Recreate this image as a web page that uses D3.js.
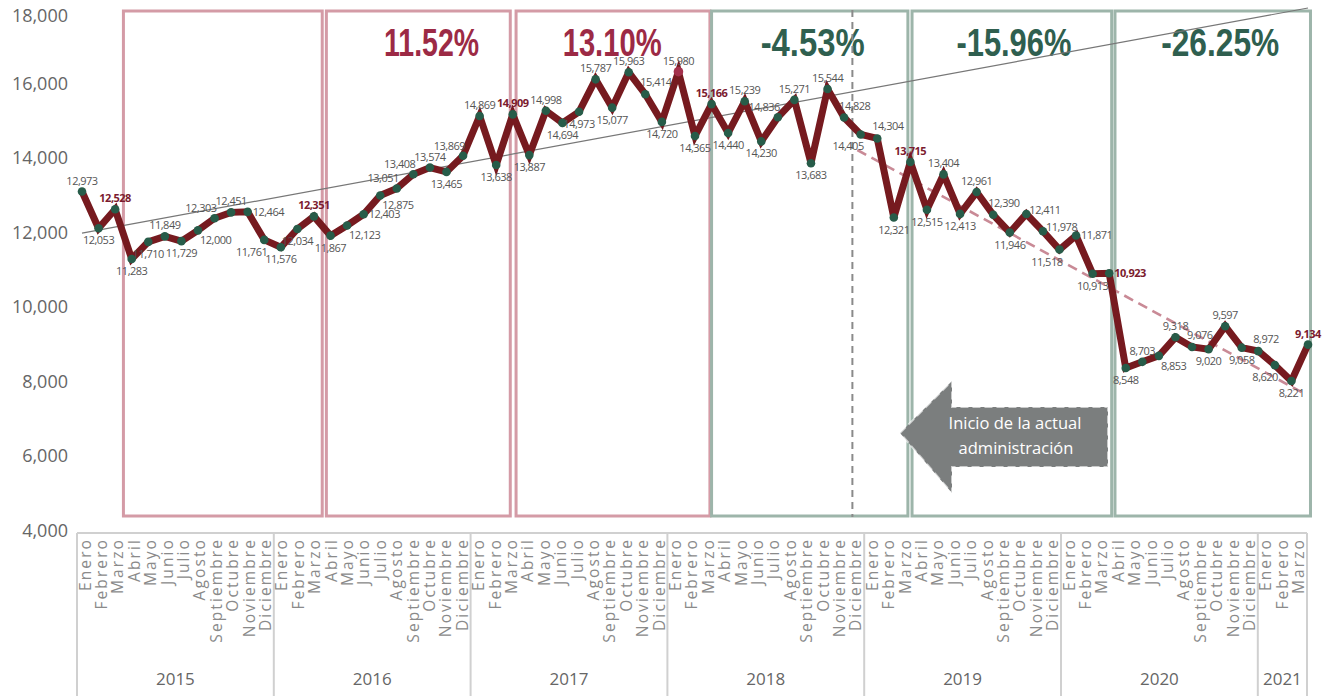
<!DOCTYPE html>
<html>
<head>
<meta charset="utf-8">
<script src="https://cdn.jsdelivr.net/npm/d3@7.9.0/dist/d3.min.js"></script>
<style>
  body { margin: 0; background: #fff; }
  svg { display: block; }
</style>
</head>
<body>
<svg id="chart" width="1331" height="696"></svg>
<script>
// month names and years on the category axis
const months = ['Enero','Febrero','Marzo','Abril','Mayo','Junio','Julio','Agosto','Septiembre','Octubre','Noviembre','Diciembre'];
const years = ['2015','2016','2017','2018','2019','2020','2021'];
const monthsPerYear = [12, 12, 12, 12, 12, 12, 3];

// monthly values, Enero 2015 .. Marzo 2021
const values = [
  12973, 12053, 12528, 11283, 11710, 11849, 11729, 12000, 12303, 12451, 12464, 11761,
  11576, 12034, 12351, 11867, 12123, 12403, 12875, 13051, 13408, 13574, 13465, 13869,
  14869, 13638, 14909, 13887, 14998, 14694, 14973, 15787, 15077, 15963, 15414, 14720,
  15980, 14365, 15166, 14440, 15239, 14230, 14836, 15271, 13683, 15544, 14828, 14405,
  14304, 12321, 13715, 12515, 13404, 12413, 12961, 12390, 11946, 12411, 11978, 11518,
  11871, 10913, 10923, 8548, 8703, 8853, 9318, 9076, 9020, 9597, 9058, 8972,
  8620, 8221, 9134
];

// March values shown in bold, and the peak point
const boldIdx = [2, 14, 26, 38, 50, 62, 74];
const peakIdx = 36;

// where each value label sits around its point
const labelPos = [
  't','b','t','b','b','t','b','br','tl','t','r','bl',
  'b','b','t','b','br','r','br','tl','tl','t','b','tl',
  't','b','t','b','t','b','b','t','b','t','tr','b',
  't','b','t','b','t','b','tl','t','b','t','tr','bl',
  'tr','b','t','b','t','b','t','tr','b','rt','rt','bl',
  'r','b','r','b','t','br','t','tr','b','t','b','tr',
  'bl','b','t'
];

// twelve-month boxes (in point index units) and their change labels
const boxFrom = [2.5, 14.75, 26.2, 38.0, 50.1, 62.35];
const boxTo = [14.5, 25.85, 37.9, 49.85, 62.15, 74.15];
const boxKind = ['up', 'up', 'up', 'down', 'down', 'down'];
const boxLabel = ['', '11.52%', '13.10%', '-4.53%', '-15.96%', '-26.25%'];
const boxLabelAt = [0, 21.1, 32.0, 44.1, 56.25, 68.7];
const boxLabelWidth = [0, 95, 99, 104, 115, 118];

// trend lines: [index, value]
const trendAll = [[0, 11930], [74, 17575]];
const trendNow = [[46.8, 14015], [73.8, 7900]];
const adminStart = 46.5;

const yTicks = [4000, 6000, 8000, 10000, 12000, 14000, 16000, 18000];

const svg = d3.select('#chart');
const W = 1331, H = 696;
const font = "'Open Sans', sans-serif";

const n = values.length;
const x = d3.scaleLinear().domain([0, n - 1]).range([82, 1308]);
const y = d3.scaleLinear().domain([4486, 17400]).range([530, 15]);   // series
const yAxisScale = d3.scaleLinear().domain([4000, 18000]).range([530.5, 9]);
const xBand = d3.scaleBand().domain(d3.range(n)).range([77, 1307]);

const colRed = '#761a1f';
const colDot = '#275c49';
const colPink = '#d49ba6';
const colGreen = '#9db5aa';

// y axis labels
const yAxis = svg.append('g')
  .attr('transform', 'translate(68,0)')
  .call(d3.axisLeft(yAxisScale).tickValues(yTicks).tickSize(0).tickPadding(0).tickFormat(d3.format(',')));
yAxis.select('.domain').remove();
yAxis.selectAll('text')
  .attr('font-family', font)
  .attr('font-size', 18)
  .attr('fill', '#666')
  .attr('dy', d => d === 18000 ? '0.7em' : '0.32em');

// boxes
boxFrom.forEach((f, i) => {
  svg.append('rect')
    .attr('x', x(f))
    .attr('y', 11)
    .attr('width', x(boxTo[i]) - x(f))
    .attr('height', 505)
    .attr('fill', 'none')
    .attr('stroke', boxKind[i] === 'up' ? colPink : colGreen)
    .attr('stroke-width', 3);
  if (boxLabel[i]) {
    svg.append('text')
      .attr('x', x(boxLabelAt[i]))
      .attr('y', 56)
      .attr('text-anchor', 'middle')
      .attr('font-family', "'Liberation Sans Narrow', 'Liberation Sans', sans-serif")
      .attr('font-weight', 'bold')
      .attr('font-size', 39)
      .attr('textLength', boxLabelWidth[i])
      .attr('lengthAdjust', 'spacingAndGlyphs')
      .attr('fill', boxKind[i] === 'up' ? '#9c2a45' : '#2f5f4f')
      .text(boxLabel[i]);
  }
});

// start of administration marker
svg.append('line')
  .attr('x1', x(adminStart)).attr('x2', x(adminStart))
  .attr('y1', 10).attr('y2', 517)
  .attr('stroke', '#8a8a8a')
  .attr('stroke-width', 2)
  .attr('stroke-dasharray', '7,5');

// trend lines
const tline = d3.line().x(d => x(d[0])).y(d => y(d[1]));
svg.append('path')
  .attr('d', tline(trendAll))
  .attr('stroke', '#777')
  .attr('stroke-width', 1.2)
  .attr('fill', 'none');
svg.append('path')
  .attr('d', tline(trendNow))
  .attr('stroke', '#c98a96')
  .attr('stroke-width', 2.6)
  .attr('stroke-dasharray', '10,6')
  .attr('fill', 'none');

// arrow
const ax = 900, ay = 437;
const arrowPts = [[ax, ay - 4], [ax + 52, ay - 56], [ax + 52, ay - 30], [1108, ay - 30], [1108, ay + 30], [ax + 52, ay + 30], [ax + 52, ay + 56]];
svg.append('path')
  .attr('d', d3.line()(arrowPts) + 'Z')
  .attr('fill', '#7b7e7e')
  .attr('stroke', '#fff')
  .attr('stroke-opacity', 0.6)
  .attr('stroke-width', 2)
  .attr('stroke-dasharray', '8,4');
svg.append('text')
  .attr('x', 1015).attr('y', 429)
  .attr('text-anchor', 'middle')
  .attr('font-family', font).attr('font-size', 16.5)
  .attr('fill', '#fff')
  .text('Inicio de la actual');
svg.append('text')
  .attr('x', 1016).attr('y', 454)
  .attr('text-anchor', 'middle')
  .attr('font-family', font).attr('font-size', 16.5)
  .attr('fill', '#fff')
  .text('administración');

// main series
svg.append('path')
  .datum(values)
  .attr('d', d3.line().x((d, i) => x(i)).y(d => y(d)))
  .attr('fill', 'none')
  .attr('stroke', colRed)
  .attr('stroke-width', 7)
  .attr('stroke-linejoin', 'miter');

svg.selectAll('circle.pt')
  .data(values)
  .join('circle')
  .attr('class', 'pt')
  .attr('cx', (d, i) => x(i))
  .attr('cy', d => y(d))
  .attr('r', (d, i) => i === peakIdx ? 4.8 : 4.3)
  .attr('fill', (d, i) => i === peakIdx ? '#a3304b' : colDot);

// value labels
const offsets = {
  t: ['middle', 0, -7], b: ['middle', 0, 16],
  tl: ['end', 2, -6], tr: ['start', -5, -8],
  bl: ['end', 3, 16], br: ['start', 2, 14],
  r: ['start', 5, 4], rt: ['start', 3, 0]
};
const fmt = d3.format(',');
svg.selectAll('text.val')
  .data(values)
  .join('text')
  .attr('class', 'val')
  .each(function (d, i) {
    const o = offsets[labelPos[i]];
    const bold = boldIdx.includes(i);
    d3.select(this)
      .attr('x', x(i) + o[1])
      .attr('y', y(d) + o[2])
      .attr('text-anchor', o[0])
      .attr('font-family', font)
      .attr('font-size', 11)
      .attr('letter-spacing', -0.5)
      .attr('font-weight', bold ? 'bold' : 'normal')
      .attr('fill', bold ? '#7b1b2e' : '#555')
      .text(fmt(d));
  });

// category axis
const axisG = svg.append('g');
const bw = xBand.bandwidth();
axisG.append('line')
  .attr('x1', xBand(0)).attr('x2', xBand(n - 1) + bw)
  .attr('y1', 533).attr('y2', 533)
  .attr('stroke', '#d0d0d0').attr('stroke-width', 2);

let start = 0;
const bounds = [0];
monthsPerYear.forEach(c => { start += c; bounds.push(start); });
bounds.forEach(b => {
  const bx = b < n ? xBand(b) : xBand(n - 1) + bw;
  axisG.append('line')
    .attr('x1', bx).attr('x2', bx)
    .attr('y1', 533).attr('y2', H)
    .attr('stroke', '#d0d0d0').attr('stroke-width', 2);
});

axisG.selectAll('text.month')
  .data(d3.range(n))
  .join('text')
  .attr('class', 'month')
  .attr('transform', i => `translate(${xBand(i) + bw / 2},538) rotate(-90)`)
  .attr('text-anchor', 'end')
  .attr('dy', '0.35em')
  .attr('font-family', font)
  .attr('font-size', 15.5)
  .attr('letter-spacing', 2.1)
  .attr('fill', '#8a8a8a')
  .text(i => months[i % 12]);

years.forEach((yr, k) => {
  const a = xBand(bounds[k]);
  const b = bounds[k + 1] < n ? xBand(bounds[k + 1]) : xBand(n - 1) + bw;
  axisG.append('text')
    .attr('x', (a + b) / 2)
    .attr('y', 685)
    .attr('text-anchor', 'middle')
    .attr('font-family', font)
    .attr('font-size', 17)
    .attr('fill', '#666')
    .text(yr);
});
</script>
</body>
</html>
